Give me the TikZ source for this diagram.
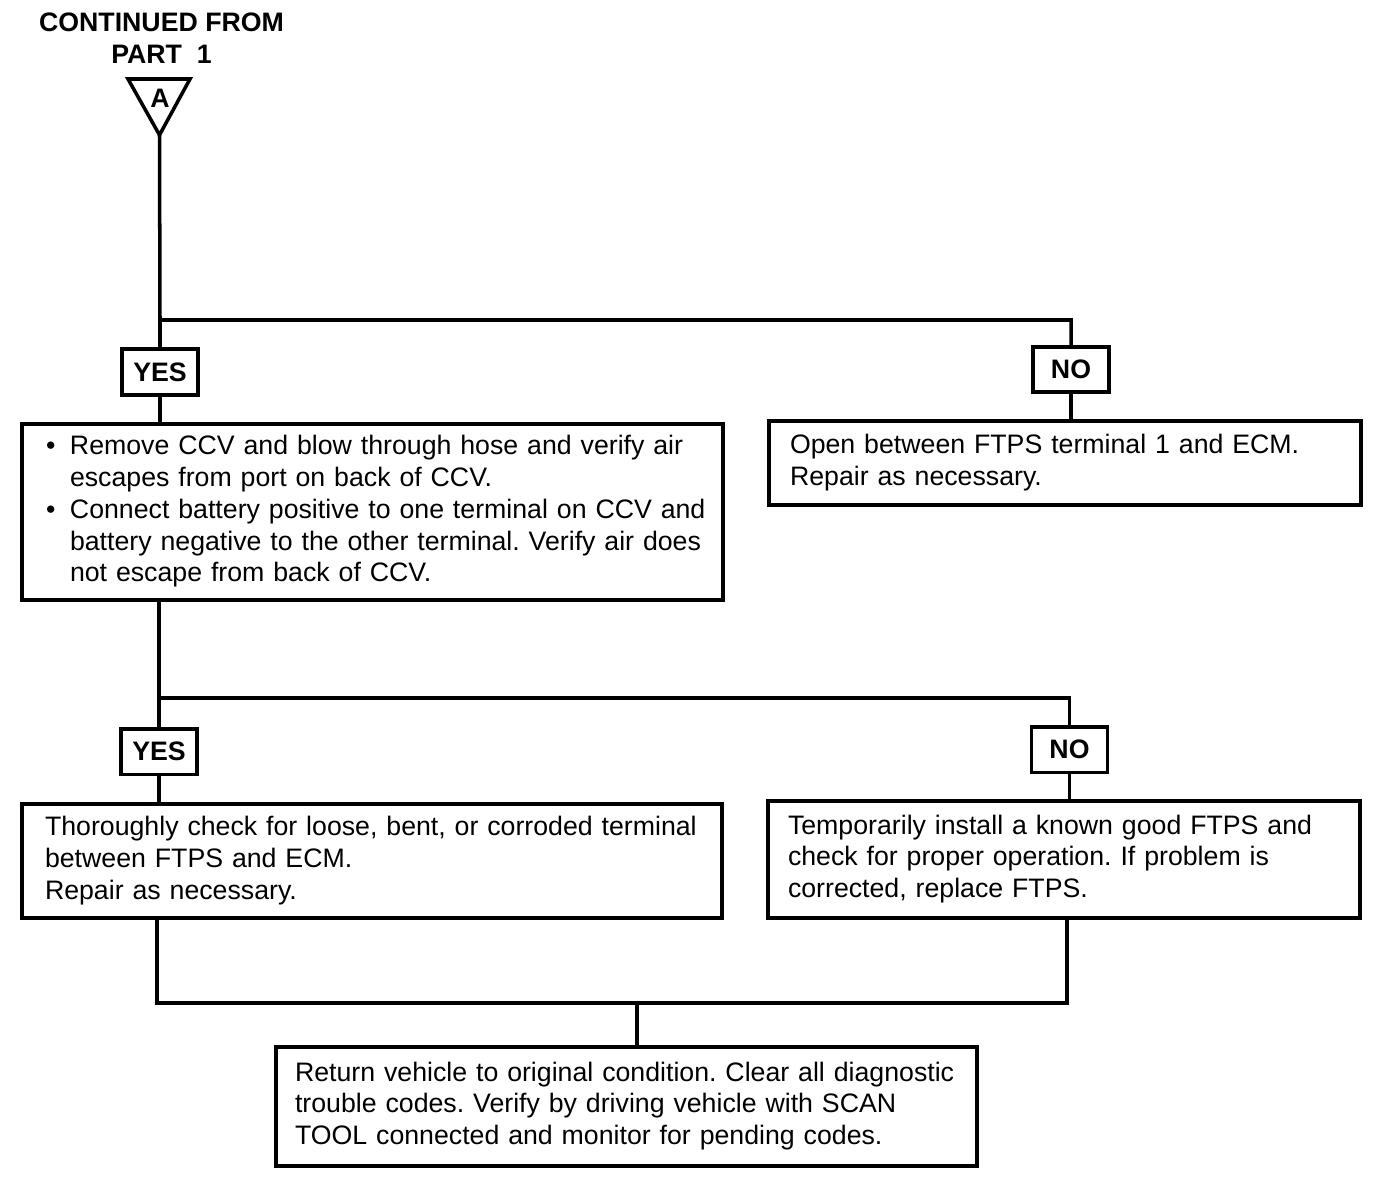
\documentclass[tikz,border=0pt]{standalone}
\usepackage{fontspec}
\setmainfont{Liberation Sans}
\usetikzlibrary{positioning}
\newcommand{\boxfont}{\fontsize{15.2pt}{18.1pt}\selectfont\frenchspacing}
\newcommand{\steplines}[1]{\begin{tabular}{@{}l@{}}#1\end{tabular}}

\begin{document}
\begin{tikzpicture}[
    line width=2pt,
    stepbox/.style={draw, line width=2pt, align=left, inner sep=0pt, font=\boxfont},
    answer/.style={draw, line width=2pt, inner sep=0pt, font=\boxfont\bfseries,
      minimum width=1.52cm, minimum height=0.91cm}
]
    \useasboundingbox (0,0) rectangle (27.84,-23.56);

    % Entry point from part 1
    \node[font=\boxfont\bfseries, align=center] (fromtxt) at (3.23,-0.76)
      {CONTINUED FROM\\PART\ \ 1};
    \coordinate (triL) at (2.56,-1.58);
    \coordinate (triR) at (3.80,-1.58);
    \coordinate (triB) at (3.19,-2.70);
    \draw (triL) -- (triR) -- (triB) -- cycle;
    \node[font=\boxfont\bfseries, inner sep=0pt] (conA) at (3.2,-1.96) {A};

    % First answer
    \coordinate (split1) at (3.2,-6.4);
    \node[answer] (yes1) at (3.2,-7.44) {YES};
    \node[answer] (no1) at (21.42,-7.39) {NO};

    \node[stepbox, minimum width=14.02cm, minimum height=3.52cm, text width=13.06cm]
      (ccvtest) at (7.45,-10.24) {%
      \begin{tabular}{@{}p{0.48cm}@{}l@{}}
        \textbullet & Remove CCV and blow through hose and verify air\\
                    & escapes from port on back of CCV.\\
        \textbullet & Connect battery positive to one terminal on CCV and\\
                    & battery negative to the other terminal. Verify air does\\
                    & not escape from back of CCV.
      \end{tabular}};
    \node[stepbox, minimum width=11.84cm, minimum height=1.68cm, text width=11.0cm]
      (openftps) at (21.30,-9.26)
      {\steplines{Open between FTPS terminal 1 and ECM.\\Repair as necessary.}};

    \draw (triB) -- (split1) -- (split1 -| no1) -- (no1.north);
    \draw (split1) -- (yes1.north);
    \draw (yes1.south) -- (yes1.south |- ccvtest.north);
    \draw (no1.south) -- (no1.south |- openftps.north);

    % Second answer
    \coordinate (split2) at (3.18,-13.96);
    \node[answer] (yes2) at (3.18,-15.03) {YES};
    \node[answer] (no2) at (21.39,-14.99) {NO};

    \node[stepbox, minimum width=14.0cm, minimum height=2.28cm, text width=13.08cm]
      (checkterm) at (7.44,-17.22)
      {\steplines{Thoroughly check for loose, bent, or corroded terminal\\between FTPS and ECM.\\Repair as necessary.}};
    \node[stepbox, minimum width=11.84cm, minimum height=2.34cm, text width=11.04cm]
      (tempftps) at (21.28,-17.19)
      {\steplines{Temporarily install a known good FTPS and\\check for proper operation. If problem is\\corrected, replace FTPS.}};

    \draw (split2 |- ccvtest.south) -- (split2) -- (split2 -| no2) -- (no2.north);
    \draw (split2) -- (yes2.north);
    \draw (yes2.south) -- (yes2.south |- checkterm.north);
    \draw (no2.south) -- (no2.south |- tempftps.north);

    % Final step
    \coordinate (merge) at (12.74,-20.06);
    \node[stepbox, minimum width=14.02cm, minimum height=2.38cm, text width=13.26cm]
      (returnveh) at (12.53,-22.13)
      {\steplines{Return vehicle to original condition. Clear all diagnostic\\trouble codes. Verify by driving vehicle with SCAN\\TOOL connected and monitor for pending codes.}};

    \draw (3.14,0 |- checkterm.south) |- (merge) -| (21.34,0 |- tempftps.south);
    \draw (merge) -- (merge |- returnveh.north);
\end{tikzpicture}
\end{document}
